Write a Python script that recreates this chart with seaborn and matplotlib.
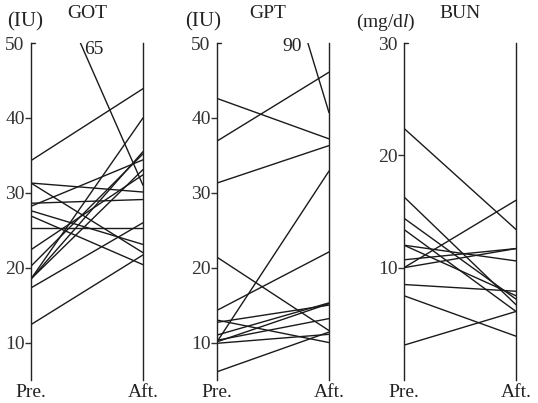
import numpy as np
import pandas as pd
import seaborn as sns
import matplotlib
matplotlib.use("Agg")
import matplotlib.pyplot as plt

# values (pre / after, one pair per patient)
got_pre = [65, 34.3, 31.3, 31.3, 28.6, 28.2, 27.6, 26.9, 25.3, 22.4, 20.2, 18.5, 18.5, 18.5, 17.3, 12.4]
got_aft = [31, 43.9, 30.1, 22.0, 29.1, 34.4, 23.1, 20.4, 25.3, 32.4, 35.2, 40.0, 35.5, 33.1, 26.0, 21.7]

gpt_pre = [90, 42.6, 36.9, 31.3, 21.4, 14.3, 13.0, 12.7, 11.0, 10.3, 10.1, 9.9, 10.1, 6.1]
gpt_aft = [40.7, 37.2, 46.1, 36.3, 11.6, 22.1, 10.0, 15.0, 15.3, 13.2, 32.9, 11.1, 15.2, 11.4]

bun_pre = [22.4, 16.3, 14.4, 13.4, 12.0, 12.0, 10.7, 10.0, 10.0, 8.5, 7.5, 3.1]
bun_aft = [13.4, 6.7, 7.2, 6.1, 10.6, 7.5, 11.7, 16.0, 11.7, 7.9, 3.9, 6.1]

phases = ["Pre.", "Aft."]

sns.set_theme(style="white")
plt.rcParams.update({
    "font.family": ["Liberation Serif", "DejaVu Serif"],
    "mathtext.fontset": "custom",
    "mathtext.rm": "Liberation Serif",
    "mathtext.it": "Liberation Serif:italic",
})


def long_df(pre, aft):
    n = len(pre)
    return pd.DataFrame({
        "id": list(range(n)) * 2,
        "x": [0] * n + [1] * n,
        "value": list(pre) + list(aft),
    })


W, H = 538, 403
fig = plt.figure(figsize=(W / 100, H / 100), dpi=100)

panels = [
    # left px, data, ylim, ticks
    (31, got_pre, got_aft, (5, 50), [10, 20, 30, 40, 50]),
    (217, gpt_pre, gpt_aft, (5, 50), [10, 20, 30, 40, 50]),
    (404, bun_pre, bun_aft, (0, 30), [10, 20, 30]),
]

axes = []
for left, pre, aft, ylim, ticks in panels:
    ax = fig.add_axes([left / W, (H - 380) / H, 112 / W, 337 / H])
    sns.lineplot(data=long_df(pre, aft), x="x", y="value", units="id",
                 estimator=None, color="#1a1a1a", lw=1.0, ax=ax, legend=False)
    ax.set_xlim(0, 1)
    ax.set_ylim(*ylim)
    ax.set_yticks(ticks)
    ax.set_yticklabels([str(t) for t in ticks], fontsize=14, color="#333")
    ax.set_xticks([0, 1])
    ax.set_xticklabels(phases, fontsize=14, color="#222")
    ax.set_xlabel("")
    ax.set_ylabel("")
    ax.tick_params(axis="y", direction="out", length=4, width=1, pad=0.5,
                   left=True, colors="#333")
    ax.tick_params(axis="x", length=0, pad=3)
    for s in ["top", "bottom"]:
        ax.spines[s].set_visible(False)
    for s in ["left", "right"]:
        ax.spines[s].set_visible(True)
        ax.spines[s].set_color("#222")
        ax.spines[s].set_linewidth(1.0)
    # the top tick points inward
    ax.yaxis.get_major_ticks()[-1].tick1line.set_visible(False)
    ax.axhline(ticks[-1], xmin=0, xmax=0.04, color="#222", lw=1.0, clip_on=False)
    ax.set_facecolor("white")
    axes.append(ax)


def ftext(x, y, s, **kw):
    fig.text(x / W, 1 - y / H, s, ha="center", va="center", color="#222", **kw)


ftext(25, 22, "(IU)", fontsize=15)
ftext(87, 14, "GOT", fontsize=14)
ftext(203, 22, "(IU)", fontsize=15)
ftext(268, 14, "GPT", fontsize=14)
ftext(386, 22, r"(mg/d$\mathit{l}$)", fontsize=14)
ftext(460, 14, "BUN", fontsize=14)

# off-scale starting values
axes[0].text(0.56, 0.982, "65", transform=axes[0].transAxes, fontsize=14,
             ha="center", va="center", color="#222")
axes[1].text(0.67, 0.99, "90", transform=axes[1].transAxes, fontsize=14,
             ha="center", va="center", color="#222")

fig.savefig("out.png", dpi=100, facecolor="white")
